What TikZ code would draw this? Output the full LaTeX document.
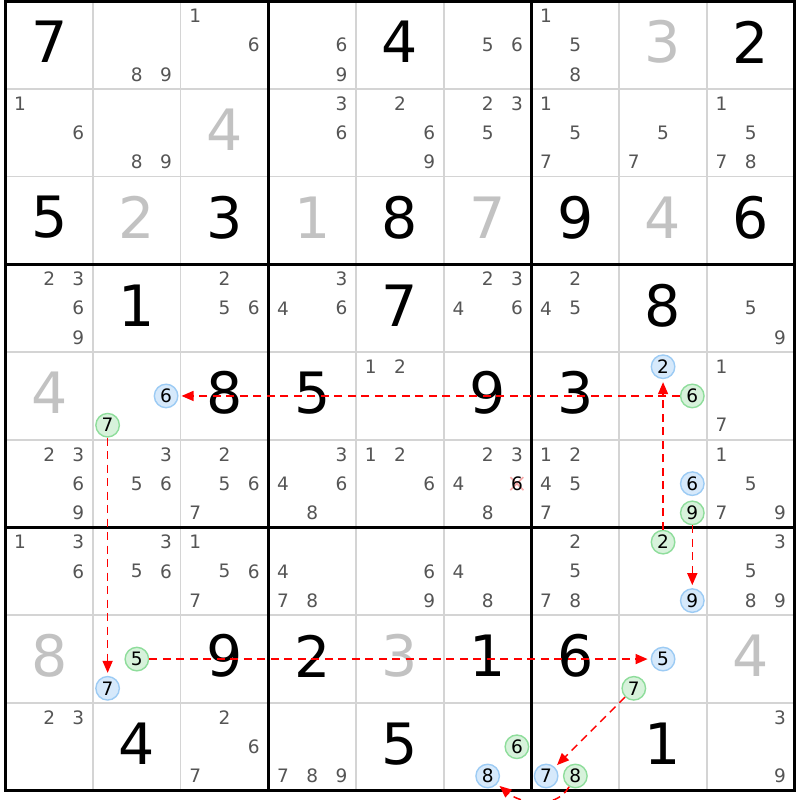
\documentclass[tikz,border=0pt]{standalone}
\usepackage{fontspec}
\setmainfont{DejaVu Sans}
\usetikzlibrary{arrows.meta}

\definecolor{pencil}{HTML}{555555}
\definecolor{solvedgray}{HTML}{C2C2C2}
\definecolor{gridgray}{HTML}{D4D4D4}
\definecolor{onfill}{HTML}{D6E9FB}
\definecolor{ondraw}{HTML}{9CCBF4}
\definecolor{offfill}{HTML}{D7F2DB}
\definecolor{offdraw}{HTML}{8EDD9B}
\definecolor{xpink}{HTML}{F7A8A8}

\tikzset{
  bigdigit/.style={font=\fontsize{57}{57}\selectfont,inner sep=0pt,yshift=3pt},
  given/.style={bigdigit,text=black},
  solved/.style={bigdigit,text=solvedgray},
  pm/.style={font=\fontsize{18.5}{18.5}\selectfont,text=pencil,inner sep=0pt},
  oncand/.style={pm,text=black,circle,draw=ondraw,fill=onfill,line width=1.4pt,minimum size=23.5pt},
  offcand/.style={pm,text=black,circle,draw=offdraw,fill=offfill,line width=1.4pt,minimum size=23.5pt},
  link/.style={red,line width=1.5pt,dash pattern=on 8pt off 5.5pt,
    -{Triangle[length=12pt,width=10pt]},shorten >=3pt}
}

% cell helpers: column, row, digit
\newcommand\Giv[3]{\node[given] (d#2#1) at (#1-0.5,#2-0.5) {#3};}
\newcommand\Sol[3]{\node[solved] (d#2#1) at (#1-0.5,#2-0.5) {#3};}
\newcommand\PmPos[3]{%
  \pgfmathsetmacro\px{#1-1+(mod(#3-1,3)+0.5)/3}%
  \pgfmathsetmacro\py{#2-1+(floor((#3-1)/3)+0.5)/3}}
\newcommand\Pm[3]{\foreach \cand in {#3}{\PmPos{#1}{#2}{\cand}\node[pm] (p#2#1\cand) at (\px,\py) {\cand};}}
\newcommand\Cand[5]{\PmPos{#2}{#3}{#4}\node[#1] (#5) at (\px,\py) {#4};}

\begin{document}
\begin{tikzpicture}[x=87.7pt,y=-87.7pt]
\path[fill=white,use as bounding box] (-0.0604,-0.0148) rectangle (9.061,9.107);

% grid
\foreach \i in {1,2,4,5,7,8}{
  \draw[gridgray,line width=1.5pt] (\i,0) -- (\i,9);
  \draw[gridgray,line width=1.5pt] (0,\i) -- (9,\i);
}
\foreach \i in {0,3,6,9}{
  \draw[line width=3pt,line cap=rect] (\i,0) -- (\i,9);
  \draw[line width=3pt,line cap=rect] (0,\i) -- (9,\i);
}

% row 1
\Giv{1}{1}{7} \Pm{2}{1}{8,9} \Pm{3}{1}{1,6} \Pm{4}{1}{6,9} \Giv{5}{1}{4}
\Pm{6}{1}{5,6} \Pm{7}{1}{1,5,8} \Sol{8}{1}{3} \Giv{9}{1}{2}
% row 2
\Pm{1}{2}{1,6} \Pm{2}{2}{8,9} \Sol{3}{2}{4} \Pm{4}{2}{3,6} \Pm{5}{2}{2,6,9}
\Pm{6}{2}{2,3,5} \Pm{7}{2}{1,5,7} \Pm{8}{2}{5,7} \Pm{9}{2}{1,5,7,8}
% row 3
\Giv{1}{3}{5} \Sol{2}{3}{2} \Giv{3}{3}{3} \Sol{4}{3}{1} \Giv{5}{3}{8}
\Sol{6}{3}{7} \Giv{7}{3}{9} \Sol{8}{3}{4} \Giv{9}{3}{6}
% row 4
\Pm{1}{4}{2,3,6,9} \Giv{2}{4}{1} \Pm{3}{4}{2,5,6} \Pm{4}{4}{3,4,6} \Giv{5}{4}{7}
\Pm{6}{4}{2,3,4,6} \Pm{7}{4}{2,4,5} \Giv{8}{4}{8} \Pm{9}{4}{5,9}
% row 5
\Sol{1}{5}{4} \Cand{oncand}{2}{5}{6}{b6r5c2} \Cand{offcand}{2}{5}{7}{g7r5c2}
\Giv{3}{5}{8} \Giv{4}{5}{5} \Pm{5}{5}{1,2} \Giv{6}{5}{9} \Giv{7}{5}{3}
\Cand{oncand}{8}{5}{2}{b2r5c8} \Cand{offcand}{8}{5}{6}{g6r5c8} \Pm{9}{5}{1,7}
% row 6
\Pm{1}{6}{2,3,6,9} \Pm{2}{6}{3,5,6} \Pm{3}{6}{2,5,6,7} \Pm{4}{6}{3,4,6,8}
\Pm{5}{6}{1,2,6} \Pm{6}{6}{2,3,4,8}
\PmPos{6}{6}{6}
\draw[xpink,line width=1.6pt] (\px,\py) ++(-6.5pt,-6.5pt) -- ++(13pt,13pt) ++(-13pt,0) -- ++(13pt,-13pt);
\node[pm,text=black] (x6r6c6) at (\px,\py) {6};
\Pm{7}{6}{1,2,4,5,7} \Cand{oncand}{8}{6}{6}{b6r6c8} \Cand{offcand}{8}{6}{9}{g9r6c8}
\Pm{9}{6}{1,5,7,9}
% row 7
\Pm{1}{7}{1,3,6} \Pm{2}{7}{3,5,6} \Pm{3}{7}{1,5,6,7} \Pm{4}{7}{4,7,8} \Pm{5}{7}{6,9}
\Pm{6}{7}{4,8} \Pm{7}{7}{2,5,7,8} \Cand{offcand}{8}{7}{2}{g2r7c8}
\Cand{oncand}{8}{7}{9}{b9r7c8} \Pm{9}{7}{3,5,8,9}
% row 8
\Sol{1}{8}{8} \Cand{offcand}{2}{8}{5}{g5r8c2} \Cand{oncand}{2}{8}{7}{b7r8c2}
\Giv{3}{8}{9} \Giv{4}{8}{2} \Sol{5}{8}{3} \Giv{6}{8}{1} \Giv{7}{8}{6}
\Cand{oncand}{8}{8}{5}{b5r8c8} \Cand{offcand}{8}{8}{7}{g7r8c8} \Sol{9}{8}{4}
% row 9
\Pm{1}{9}{2,3} \Giv{2}{9}{4} \Pm{3}{9}{2,6,7} \Pm{4}{9}{7,8,9} \Giv{5}{9}{5}
\Cand{offcand}{6}{9}{6}{g6r9c6} \Cand{oncand}{6}{9}{8}{b8r9c6}
\Cand{oncand}{7}{9}{7}{b7r9c7} \Cand{offcand}{7}{9}{8}{g8r9c7}
\Giv{8}{9}{1} \Pm{9}{9}{3,9}

% chain
\draw[link] (g6r5c8) -- (b6r5c2);
\draw[link] (g2r7c8) -- (b2r5c8);
\draw[link] (g7r5c2) -- (b7r8c2);
\draw[link] (g9r6c8) -- (b9r7c8);
\draw[link] (g5r8c2) -- (b5r8c8);
\draw[link] (g7r8c8) -- (b7r9c7);
\draw[link] (g8r9c7) to[out=-120,in=-40] (b8r9c6);
\end{tikzpicture}
\end{document}
